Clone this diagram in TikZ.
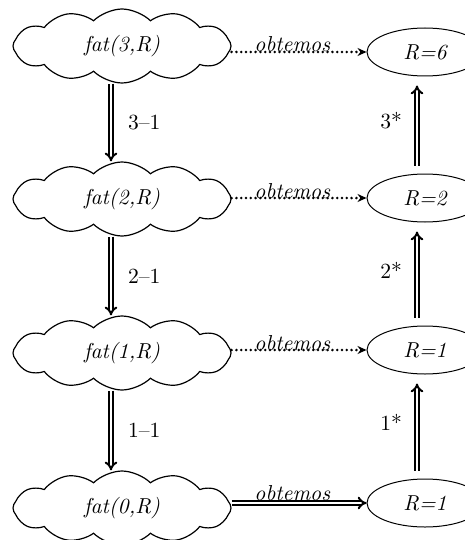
\documentclass[tikz,border=0pt]{standalone}
\usetikzlibrary{shapes.symbols,shapes.geometric,arrows.meta}
\newcommand{\mysize}{\fontsize{10.8}{13}\selectfont}
\begin{document}
\begin{tikzpicture}[x=0.5pt,y=-0.5pt,
  cloudbox/.style={cloud, draw, line width=0.6pt, cloud puffs=12, cloud puff arc=90, aspect=3.2,
    minimum width=109pt, minimum height=37pt, inner sep=0pt, font=\mysize\itshape},
  resbox/.style={ellipse, draw, line width=0.5pt, minimum width=58pt, minimum height=24pt,
    inner sep=0pt, font=\mysize\itshape},
  dbl/.style={double, double distance=1pt, line width=1pt, -{Implies}},
  dotline/.style={line width=1.4pt, line cap=round, dash pattern=on 0pt off 2.4pt,
    -{Stealth[length=4.5pt,width=4pt]}},
  lbl/.style={font=\mysize, inner sep=0pt},
  over/.style={font=\mysize\itshape, inner sep=0pt, anchor=base}]
\useasboundingbox (0,0) rectangle (465,540);
\clip (0,0) rectangle (465,540);
\node[cloudbox] (c3) at (122,46) {fat(3,R)};
\node[cloudbox] (c2) at (122,199) {fat(2,R)};
\node[cloudbox] (c1) at (122,353) {fat(1,R)};
\node[cloudbox] (c0) at (122,508) {fat(0,R)};
\node[resbox] (r3) at (425,52) {R=6};
\node[resbox] (r2) at (425,198) {R=2};
\node[resbox] (r1) at (425,350) {R=1};
\node[resbox] (r0) at (425,503) {R=1};
% downward recursion
\draw[dbl] ([xshift=-5.5pt]c3.south) -- ([xshift=-5.5pt]c2.north) node[lbl, midway, right=8pt] {3--1};
\draw[dbl] ([xshift=-5.5pt]c2.south) -- ([xshift=-5.5pt]c1.north) node[lbl, midway, right=8pt] {2--1};
\draw[dbl] ([xshift=-5.5pt]c1.south) -- ([xshift=-5.5pt]c0.north) node[lbl, midway, right=8pt] {1--1};
% upward results
\draw[dbl, shorten <=4pt, shorten >=4.5pt] ([xshift=-4pt]r2.north) -- ([xshift=-4pt]r3.south) node[lbl, midway, left=7pt, yshift=2pt] {3*};
\draw[dbl, shorten <=4pt, shorten >=4.5pt] ([xshift=-4pt]r1.north) -- ([xshift=-4pt]r2.south) node[lbl, midway, left=7pt, yshift=2pt] {2*};
\draw[dbl, shorten <=4pt, shorten >=4.5pt] ([xshift=-4pt]r0.north) -- ([xshift=-4pt]r1.south) node[lbl, midway, left=7pt, yshift=2pt] {1*};
% obtemos
\draw[dotline] (c3.east |- r3.west) -- (r3.west) node[over, pos=0.45] {obtemos};
\draw[dotline] (c2.east |- r2.west) -- (r2.west) node[over, pos=0.45] {obtemos};
\draw[dotline] (c1.east |- r1.west) -- (r1.west) node[over, pos=0.45] {obtemos};
\draw[dbl] (c0.east |- r0.west) -- (r0.west) node[over, pos=0.45, yshift=1.2pt] {obtemos};
\end{tikzpicture}
\end{document}
